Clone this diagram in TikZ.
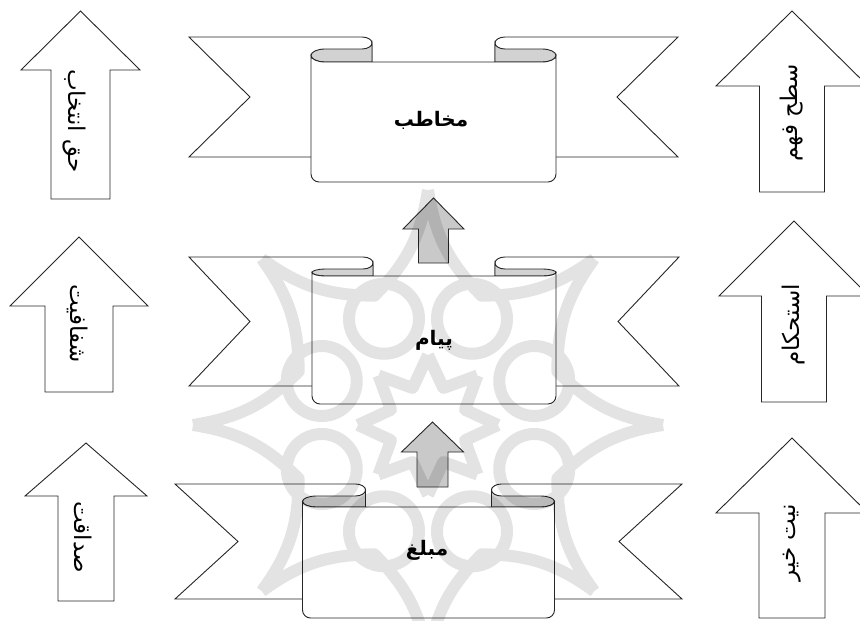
\documentclass[tikz,border=0pt]{standalone}
\usepackage{fontspec}
\newfontfamily\arabicfont[Script=Arabic]{DejaVu Sans}
\TeXXeTstate=1
\usetikzlibrary{calc}
\tikzset{
  outl/.style={draw=black!85, line width=0.9pt, line join=miter},
  ribbonback/.style={outl, fill=white},
  foldgray/.style={outl, fill=gray!35},
  sidearr/.style={outl, fill=white},
  midarr/.style={outl, fill=gray!42},
  bannertext/.style={font=\arabicfont\bfseries\fontsize{20}{24}\selectfont, inner sep=0pt},
  sidetext/.style={font=\arabicfont\fontsize{23}{26}\selectfont, inner sep=0pt},
  wm/.style={draw=black, draw opacity=0.11, line width=12pt, line join=round}
}
\newcommand\blockarrow[7]{%
  \draw[#1] (#2,#3) -- ({#2+#5},#4) -- ({#2+#6},#4) -- ({#2+#6},#7)
    -- ({#2-#6},#7) -- ({#2-#6},#4) -- ({#2-#5},#4) -- cycle;}
\newcommand\drawbanner{%
  \pgfmathsetmacro\yN{(\byT+\byB)/2}%
  \pgfmathsetmacro\yM{(\byC+\byP)/2}%
  \pgfmathsetmacro\ryc{(\byP-\byC)/2}%
  \pgfmathsetmacro\ryb{(\byC-\byT)/2}%
  \foreach \s in {-1,1}{%
    \draw[ribbonback] ({\bcx+\s*\bW},\byT) -- ({\bcx+\s*(\bQ+\brx)},\byT)
      arc[start angle=270, end angle={270-90*\s}, x radius=\brx, y radius=\ryb]
      -- ({\bcx+\s*\bQ},\byB) -- ({\bcx+\s*\bW},\byB) -- ({\bcx+\s*(\bW-\bd)},\yN) -- cycle;
    \draw[foldgray] ({\bcx+\s*(\bQ+\brx)},\byC)
      arc[start angle=90, end angle={90+90*\s}, x radius=\brx, y radius=\ryb]
      -- ({\bcx+\s*\bQ},\byP) -- ({\bcx+\s*(\bP-\brf)},\byP)
      arc[start angle=90, end angle={90-180*\s}, x radius=\brf, y radius=\ryc]
      -- cycle;
  }%
  \draw[ribbonback] ({\bcx-\bP},\yM) -- ({\bcx-\bP},{\byE-\br})
    arc[start angle=180,end angle=90,radius=\br] -- ({\bcx+\bP-\br},\byE)
    arc[start angle=90,end angle=0,radius=\br] -- ({\bcx+\bP},\yM)
    arc[start angle=0,end angle=90,x radius=\brf,y radius=\ryc] -- ({\bcx-\bP+\brf},\byP)
    arc[start angle=90,end angle=180,x radius=\brf,y radius=\ryc] -- cycle;
}
\begin{document}
\begin{tikzpicture}[x=1pt,y=-1pt]
\useasboundingbox (0,0) rectangle (860,621);
\fill[white] (0,0) rectangle (860,621);
\def\brx{10}\def\brf{14}\def\br{8}
% top banner
\def\bcx{433.5}\def\byT{37}\def\byB{157}\def\bW{244.5}\def\bd{61}
\def\bP{122.5}\def\bQ{61.5}\def\byC{49}\def\byP{62}\def\byE{182}
\drawbanner
% middle banner
\def\bcx{434}\def\byT{257}\def\byB{386}\def\bW{245}\def\bd{61}
\def\bP{122}\def\bQ{61}\def\byC{269}\def\byP{276}\def\byE{404}
\drawbanner
% bottom banner
\def\bcx{428.5}\def\byT{484}\def\byB{599}\def\bW{253.5}\def\bd{63}
\def\bP{126}\def\bQ{63}\def\byC{496}\def\byP{507}\def\byE{618}
\drawbanner
% centre arrows
\blockarrow{midarr}{433.5}{198}{229}{30.5}{15}{263}
\blockarrow{midarr}{432.5}{422}{452}{31}{15.5}{487}
% side arrows
\blockarrow{sidearr}{80.5}{11}{70}{59.5}{29.5}{199}
\blockarrow{sidearr}{79}{237}{306}{69}{34}{392}
\blockarrow{sidearr}{86}{443}{496}{61}{28}{601}
\blockarrow{sidearr}{792}{11}{86}{76}{32.5}{192}
\blockarrow{sidearr}{794}{221}{296}{75}{32.5}{402}
\blockarrow{sidearr}{792}{438}{513}{76}{33}{618}
% banner texts
\node[bannertext] (mokhatab) at (431,120) {\beginR مخاطب\endR};
\node[bannertext] (payam) at (434,340) {\beginR پیام\endR};
\node[bannertext] (moballegh) at (427,550) {\beginR مبلغ\endR};
% side texts
\node[sidetext, rotate=-90] (haq) at (74,121) {\beginR حق انتخاب\endR};
\node[sidetext, rotate=-90] (shaf) at (78,324) {\beginR شفافیت\endR};
\node[sidetext, rotate=-90] (sedaq) at (83,537) {\beginR صداقت\endR};
\node[sidetext, rotate=90] (sath) at (792,113) {\beginR سطح فهم\endR};
\node[sidetext, rotate=90] (estehkam) at (794,325) {\beginR استحکام\endR};
\node[sidetext, rotate=90] (niyat) at (792,543) {\beginR نیت خیر\endR};
% watermark
\begin{scope}
\clip (0,0) rectangle (860,621);
\coordinate (wc) at (428,425);
\draw[wm]
  foreach \a in {22.5,67.5,...,337.5} { ($(wc)+(\a:115)$) circle[radius=35] }
  foreach \k in {0,...,7} { ($(wc)+({45*\k}:235)$) to[bend right=18] ($(wc)+({45*\k+22.5}:140)$) to[bend right=18] ($(wc)+({45*\k+45}:235)$) }
  foreach \k in {0,...,7} { ($(wc)+({45*\k}:70)$) -- ($(wc)+({45*\k+22.5}:40)$) -- ($(wc)+({45*\k+45}:70)$) };
\end{scope}
\end{tikzpicture}
\end{document}
